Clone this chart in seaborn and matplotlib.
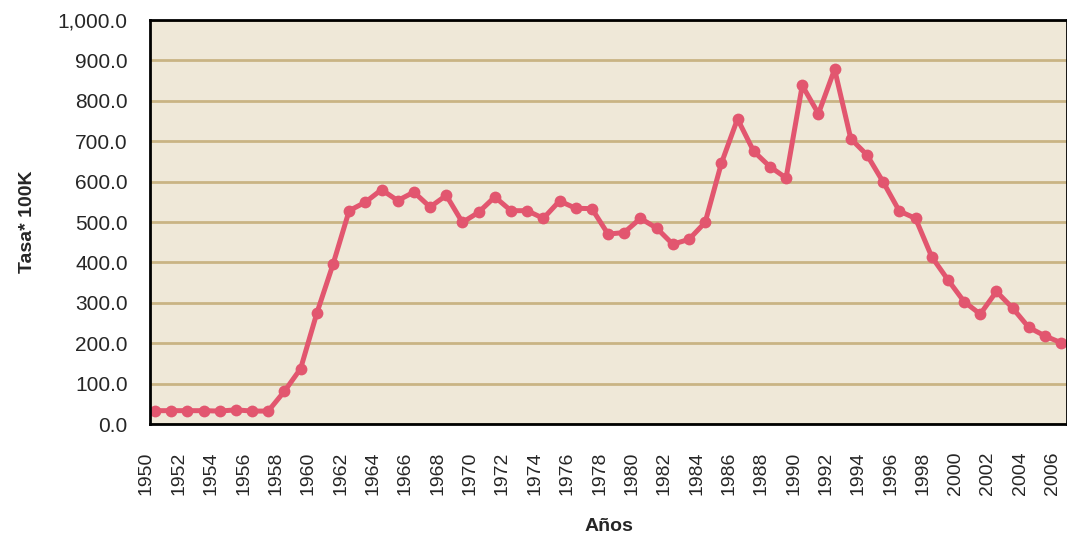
import pandas as pd
import matplotlib
matplotlib.use("Agg")
import matplotlib.pyplot as plt
import seaborn as sns
from matplotlib.ticker import FuncFormatter

# Tasa por 100K, 1950-2006
years = list(range(1950, 2007))
rates = [
    33, 33, 33, 33, 32, 35, 32, 32, 81, 137,       # 1950-1959
    274, 395, 528, 549, 580, 553, 574, 537, 566, 499,  # 1960-1969
    524, 562, 528, 528, 509, 552, 534, 533, 470, 474,  # 1970-1979
    509, 485, 445, 457, 499, 645, 755, 675, 637, 609,  # 1980-1989
    838, 768, 878, 706, 666, 599, 527, 509, 414, 357,  # 1990-1999
    303, 272, 328, 287, 239, 218, 201,                 # 2000-2006
]
year_ticks = list(range(1950, 2007, 2))
y_ticks = list(range(0, 1001, 100))

LINE_COLOR = "#E2566F"
BG_COLOR = "#EFE8D8"
GRID_COLOR = "#C9B484"

df = pd.DataFrame({"Año": years, "Tasa": rates})

sns.set_style("white")
plt.rcParams["font.family"] = ["Liberation Sans", "DejaVu Sans"]

W, H = 1067, 539
fig = plt.figure(figsize=(W / 100, H / 100), dpi=100)
ax = fig.add_axes([150 / W, (H - 424) / H, (W - 150) / W, (424 - 20) / H])
ax.set_facecolor(BG_COLOR)

sns.lineplot(data=df, x="Año", y="Tasa", ax=ax, color=LINE_COLOR,
             linewidth=3.6, marker="o", markersize=8.5,
             markeredgewidth=0, markerfacecolor=LINE_COLOR)

ax.set_ylim(0, 1000)
ax.set_xlim(1950 - 5 / 16.27, 1950 + 917 / 16.27)
ax.set_yticks(y_ticks)
ax.yaxis.set_major_formatter(FuncFormatter(lambda v, p: f"{v:,.1f}"))
ax.set_xticks(year_ticks)
# year labels sit a little left of their points in the original
ax.set_xticklabels([str(y) for y in year_ticks], rotation=90, fontsize=14,
                   ha="right")

ax.grid(axis="y", color=GRID_COLOR, linewidth=2)
ax.set_axisbelow(True)
ax.tick_params(axis="y", length=0, pad=16, labelsize=15)
ax.tick_params(axis="x", length=0, pad=20)

for side in ["left", "bottom", "top", "right"]:
    ax.spines[side].set_color("black")
    ax.spines[side].set_linewidth(2)

ax.set_xlabel("Años", fontsize=14, fontweight="bold", labelpad=16)
ax.set_ylabel("Tasa* 100K", fontsize=14, fontweight="bold", labelpad=16)

fig.savefig("out.png", dpi=100, facecolor="white")
